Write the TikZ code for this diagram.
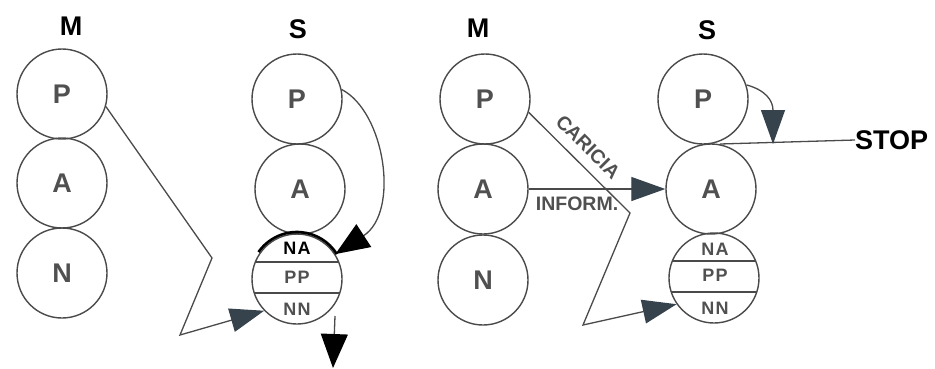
\documentclass[tikz,border=0pt]{standalone}
\usepackage{fontspec}
\setmainfont{Liberation Sans}
\newfontfamily\spacedfont[LetterSpace=8]{Liberation Sans}
\usetikzlibrary{arrows.meta,calc}

\definecolor{ink}{HTML}{4A4A4A}
\definecolor{letter}{HTML}{505050}
\definecolor{slate}{HTML}{36434C}

\begin{document}
\begin{tikzpicture}[x=1pt,y=-1pt,
  ball/.style={circle, draw=ink, line width=1.4pt, minimum size=90pt,
    inner sep=0pt, text=letter, font=\bfseries\fontsize{27}{29}\selectfont},
  split/.style={ball, path picture={
      \draw[ink, line width=1.3pt]
        ($(path picture bounding box.center)+(-60,-17)$) -- ++(120,0)
        ($(path picture bounding box.center)+(-60,14)$) -- ++(120,0);}},
  part/.style={text=letter, font=\spacedfont\bfseries\fontsize{18}{20}\selectfont, inner sep=0pt},
  head/.style={font=\bfseries\fontsize{27}{29}\selectfont, inner sep=0pt},
  wire/.style={draw=ink, line width=1.3pt},
  tag/.style={text=letter, font=\bfseries\fontsize{19.5}{21}\selectfont, inner sep=0pt},
  slatetip/.style={-{Triangle[length=34pt,width=24pt,color=slate]}},
  blacktip/.style={-{Triangle[length=34pt,width=27pt,color=black]}}
]
\useasboundingbox (0,0) rectangle (935,368);

% ---------- first scene ----------
\node[head] (lM) at (71,26) {M};
\node[head] (lS) at (298,29) {S};

\node[ball] (lmP) at (62,94) {P};
\node[ball] (lmA) at (62,183) {A};
\node[ball] (lmN) at (62,273) {N};

\node[ball] (lsP) at (297,99) {P};
\node[ball] (lsA) at (300,189) {A};
\node[split] (lsB) at (297,279) {};
\node[part, text=black] (lsNA) at (297,248) {NA};
\node[part] (lsPP) at (297,277) {PP};
\node[part] (lsNN) at (297,309) {NN};

% highlighted upper rim of the lowest ball
\draw[black, line width=2.6pt] ($(lsB.center)+(-145:47)$) arc[start angle=-145, end angle=-32, radius=47];

% zigzag from M's P into the NN band
\coordinate (lz1) at (212,258);
\coordinate (lz2) at (180,335);
\draw[wire, slatetip] (lmP.-16) -- (lz1) -- (lz2) -- (lsB.224);

% loop from S's P down onto NA
\draw[wire, blacktip] (lsP.12) .. controls (385,112) and (400,212) .. (lsB.33);

% exit downward
\coordinate (ld1) at (335,316);
\coordinate (ld2) at (333,368);
\draw[wire, blacktip] (ld1) -- (ld2);

% ---------- second scene ----------
\node[head] (rM) at (478,28) {M};
\node[head] (rS) at (707,30) {S};

\node[ball] (rmP) at (485,99) {P};
\node[ball] (rmA) at (483,189) {A};
\node[ball] (rmN) at (483,280) {N};

\node[ball] (rsP) at (703,99) {P};
\node[ball] (rsA) at (711,189) {A};
\node[split] (rsB) at (714,278) {};
\node[part] (rsNA) at (715,249) {NA};
\node[part] (rsPP) at (715,275) {PP};
\node[part] (rsNN) at (715,308) {NN};

% INFORM. : A to A
\draw[wire, slatetip] (rmA.east) -- (rsA.west);
\node[tag] (inform) at (577,204) {INFORM.};

% CARICIA : P down to NN
\coordinate (rz1) at (630,213);
\coordinate (rz2) at (583,325);
\draw[wire, slatetip] (rmP.-17) -- (rz1) -- (rz2) -- (rsB.215);
\node[tag, rotate=-45] (caricia) at (588,147) {CARICIA};

% STOP bar between P and A
\coordinate (stopL) at (720,144);
\coordinate (stopT) at (773,144);
\node[head, anchor=west] (stop) at (855,140) {STOP};
\draw[wire] (stopL) -- (stop.west);
\draw[wire, slatetip] (rsP.18) .. controls (765,90) and (773,100) .. (stopT);

\end{tikzpicture}
\end{document}
